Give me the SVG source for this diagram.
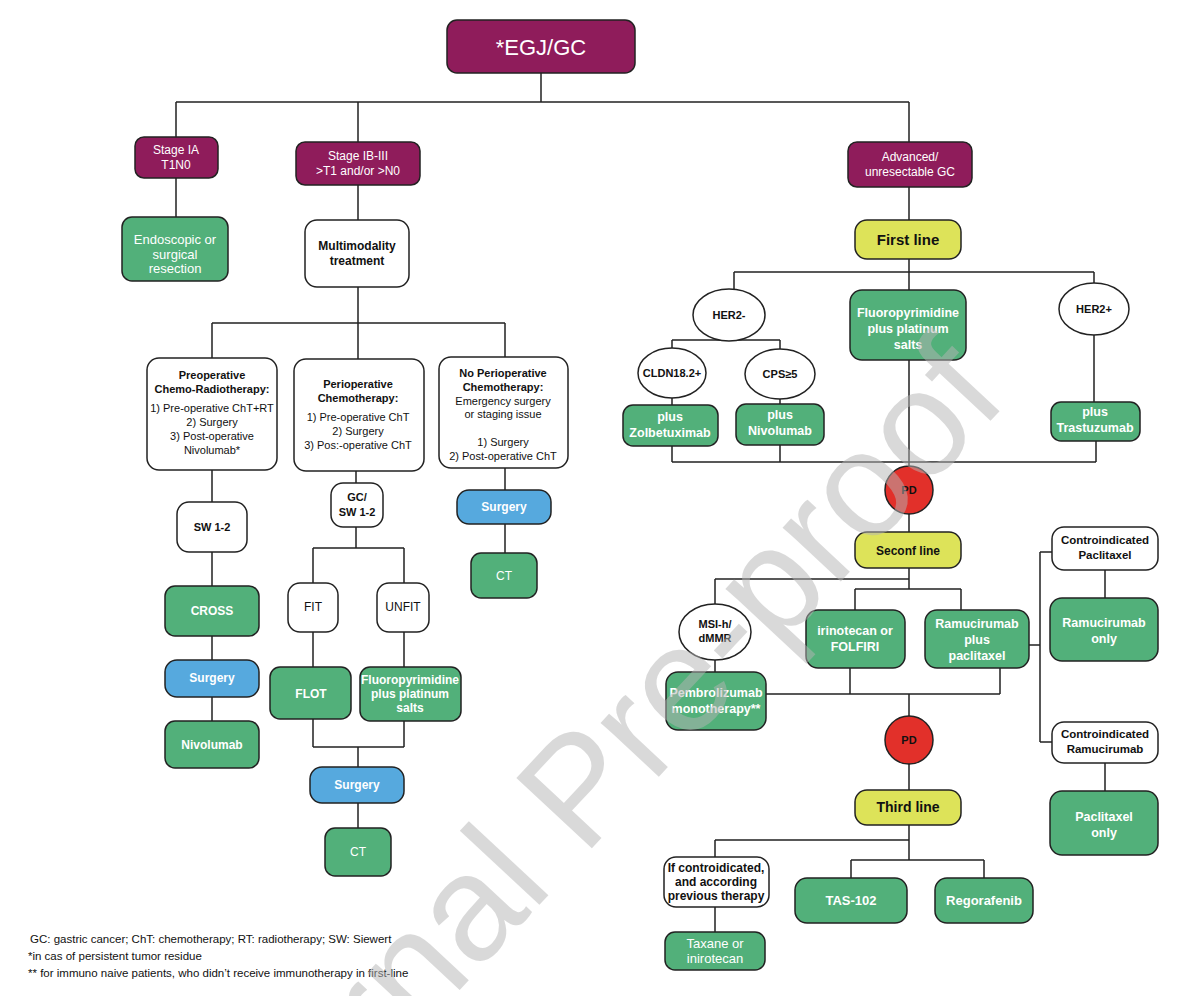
<svg xmlns="http://www.w3.org/2000/svg" width="1200" height="996" viewBox="0 0 1200 996" font-size="12" font-weight="bold">
<style>
.b{stroke:#222;stroke-width:1.5}
.m{fill:#8f1c5b}.g{fill:#52b07a}.bl{fill:#56a9de}.y{fill:#dde359}.w{fill:#fff}.r{fill:#e2302a}
text{font-family:"Liberation Sans",Arial,sans-serif;text-anchor:middle}
.n{font-family:"Liberation Sans Narrow","Liberation Sans",sans-serif}
.tw{fill:#fff}.tk{fill:#111}
.c{fill:none;stroke:#222;stroke-width:1.5}
.fn{font-family:"Liberation Sans Narrow","Liberation Sans",sans-serif;text-anchor:start;fill:#111}
</style>
<rect width="1200" height="996" fill="#fff"/>
<g id="connectors" class="c">
<path d="M541 73V102M176 102H909M176 102V137M358 102V142M909 102V142"/>
<path d="M176 178V217M358 185V220M358 287V323M212 323H505M212 323V358M358 323V359M505 323V357"/>
<path d="M212 470V502M212 552V586M212 636V660M212 697V721"/>
<path d="M356 471V483M356 527V548M313 548H404M313 548V583M404 548V583M313 632V667M404 632V667M313 719V747M404 721V747M313 747H404M358 747V767M358 803V828"/>
<path d="M505 468V490M505 524V553"/>
<path d="M909 187V220M909 259V290M734 272H1094M734 272V289M1094 272V283M672 340H780M729 341V340M672 340V348M780 340V349M672 398V405M780 399V404M1094 335V402"/>
<path d="M672 446V462M780 445V462M1096 441V462M672 462H1096M909 360V466M909 514V532M909 568V579M715 579H909M715 579V604M909 579V589M855 589H961M855 589V610M961 589V610M715 660V672"/>
<path d="M766 694H1000M850 668V694M1000 668V694M909 694V716M909 764V790"/>
<path d="M1029 645H1040M1040 552V742M1040 552H1052M1040 742H1052M1105 570V598M1105 763V791"/>
<path d="M909 825V860M715 840H909M715 840V857M851 860H984M851 860V878M984 860V878M715 907V932"/>
</g>
<g id="egj"><rect class="m b" x="447" y="20" width="188" height="53" rx="10"/><text class="tw n" x="541" y="55" font-size="22" font-weight="normal">*EGJ/GC</text></g>
<g id="stageIA"><rect class="m b" x="135" y="137" width="83" height="41" rx="9"/><text class="tw n" x="176" y="154" font-weight="normal">Stage IA</text><text class="tw n" x="176" y="169" font-weight="normal">T1N0</text></g>
<g id="stageIB"><rect class="m b" x="296" y="142" width="124" height="43" rx="9"/><text class="tw n" x="358" y="160" font-weight="normal">Stage IB-III</text><text class="tw n" x="358" y="175" font-weight="normal">&gt;T1 and/or &gt;N0</text></g>
<g id="advanced"><rect class="m b" x="848" y="142" width="124" height="45" rx="9"/><text class="tw n" x="910" y="161" font-weight="normal">Advanced/</text><text class="tw n" x="910" y="176" font-weight="normal">unresectable GC</text></g>
<g id="endo"><rect class="g b" x="122" y="217" width="106" height="64" rx="10"/><text class="tw n" x="175" y="244" font-size="13" font-weight="normal">Endoscopic or</text><text class="tw n" x="175" y="259" font-size="13" font-weight="normal">surgical</text><text class="tw n" x="175" y="273" font-size="13" font-weight="normal">resection</text></g>
<g id="multi"><rect class="w b" x="305" y="220" width="104" height="67" rx="12"/><text class="tk n" x="357" y="250">Multimodality</text><text class="tk n" x="357" y="265">treatment</text></g>
<g id="preop" font-size="11"><rect class="w b" x="147" y="358" width="130" height="112" rx="12"/><text class="tk" x="212" y="379">Preoperative</text><text class="tk" x="212" y="393">Chemo-Radiotherapy:</text><text class="tk" x="212" y="412" font-weight="normal">1) Pre-operative ChT+RT</text><text class="tk" x="212" y="426" font-weight="normal">2) Surgery</text><text class="tk" x="212" y="440" font-weight="normal">3) Post-operative</text><text class="tk" x="212" y="454" font-weight="normal">Nivolumab*</text></g>
<g id="periop" font-size="11"><rect class="w b" x="294" y="359" width="130" height="112" rx="12"/><text class="tk" x="358" y="388">Perioperative</text><text class="tk" x="358" y="402">Chemotherapy:</text><text class="tk" x="358" y="421" font-weight="normal">1) Pre-operative ChT</text><text class="tk" x="358" y="435" font-weight="normal">2) Surgery</text><text class="tk" x="358" y="449" font-weight="normal">3) Pos:-operative ChT</text></g>
<g id="noperiop" font-size="11"><rect class="w b" x="439" y="357" width="129" height="111" rx="12"/><text class="tk" x="503" y="377">No Perioperative</text><text class="tk" x="503" y="391">Chemotherapy:</text><text class="tk" x="503" y="405" font-weight="normal">Emergency surgery</text><text class="tk" x="503" y="418" font-weight="normal">or staging issue</text><text class="tk" x="503" y="446" font-weight="normal">1) Surgery</text><text class="tk" x="503" y="460" font-weight="normal">2) Post-operative ChT</text></g>
<g id="sw12"><rect class="w b" x="177" y="502" width="70" height="50" rx="12"/><text class="tk" x="212" y="531" font-size="11">SW 1-2</text></g>
<g id="gcsw" font-size="11"><rect class="w b" x="331" y="483" width="52" height="44" rx="12"/><text class="tk" x="357" y="501">GC/</text><text class="tk" x="357" y="516">SW 1-2</text></g>
<g id="surgery3"><rect class="bl b" x="457" y="490" width="94" height="34" rx="12"/><text class="tw" x="504" y="511">Surgery</text></g>
<g id="ct3"><rect class="g b" x="471" y="553" width="66" height="45" rx="10"/><text class="tw n" x="504" y="580" font-weight="normal">CT</text></g>
<g id="cross"><rect class="g b" x="165" y="586" width="94" height="50" rx="10"/><text class="tw" x="212" y="615">CROSS</text></g>
<g id="surgery1"><rect class="bl b" x="165" y="660" width="94" height="37" rx="12"/><text class="tw" x="212" y="682">Surgery</text></g>
<g id="nivo1"><rect class="g b" x="165" y="721" width="94" height="47" rx="10"/><text class="tw" x="212" y="749">Nivolumab</text></g>
<g id="fit"><rect class="w b" x="288" y="583" width="50" height="49" rx="12"/><text class="tk" x="313" y="611" font-weight="normal">FIT</text></g>
<g id="unfit"><rect class="w b" x="377" y="583" width="52" height="49" rx="12"/><text class="tk" x="403" y="611" font-weight="normal">UNFIT</text></g>
<g id="flot"><rect class="g b" x="270" y="667" width="81" height="52" rx="10"/><text class="tw" x="311" y="698">FLOT</text></g>
<g id="fluoro2"><rect class="g b" x="360" y="667" width="101" height="54" rx="10"/><text class="tw" x="410" y="684">Fluoropyrimidine</text><text class="tw" x="410" y="698">plus platinum</text><text class="tw" x="410" y="712">salts</text></g>
<g id="surgery2"><rect class="bl b" x="310" y="767" width="94" height="36" rx="12"/><text class="tw" x="357" y="789">Surgery</text></g>
<g id="ct2"><rect class="g b" x="325" y="828" width="66" height="48" rx="10"/><text class="tw n" x="358" y="856" font-weight="normal">CT</text></g>
<g id="firstline"><rect class="y b" x="855" y="220" width="106" height="39" rx="12"/><text class="tk n" x="908" y="245" font-size="15">First line</text></g>
<g id="her2neg"><ellipse class="w b" cx="729" cy="315" rx="36" ry="26"/><text class="tk" x="729" y="319" font-size="11">HER2-</text></g>
<g id="fluoro1" font-size="12.5"><rect class="g b" x="850" y="290" width="116" height="70" rx="12"/><text class="tw" x="908" y="317">Fluoropyrimidine</text><text class="tw" x="908" y="333">plus platinum</text><text class="tw" x="908" y="349">salts</text></g>
<g id="her2pos"><ellipse class="w b" cx="1094" cy="309" rx="35" ry="26"/><text class="tk" x="1094" y="313" font-size="11">HER2+</text></g>
<g id="cldn"><ellipse class="w b" cx="672" cy="373" rx="34" ry="25"/><text class="tk" x="672" y="377" font-size="11">CLDN18.2+</text></g>
<g id="cps"><ellipse class="w b" cx="780" cy="374" rx="35" ry="25"/><text class="tk" x="780" y="378" font-size="11">CPS≥5</text></g>
<g id="zolbe" font-size="12.5"><rect class="g b" x="623" y="405" width="95" height="41" rx="10"/><text class="tw" x="670" y="421">plus</text><text class="tw" x="670" y="437">Zolbetuximab</text></g>
<g id="nivo2" font-size="12.5"><rect class="g b" x="736" y="404" width="88" height="41" rx="10"/><text class="tw" x="780" y="419">plus</text><text class="tw" x="780" y="435">Nivolumab</text></g>
<g id="trastu" font-size="12.5"><rect class="g b" x="1051" y="402" width="89" height="39" rx="10"/><text class="tw" x="1095" y="416">plus</text><text class="tw" x="1095" y="432">Trastuzumab</text></g>
<g id="pd1"><circle class="r b" cx="909" cy="490" r="24"/><text class="tk" x="909" y="494" font-size="11">PD</text></g>
<g id="secondline"><rect class="y b" x="855" y="532" width="106" height="36" rx="12"/><text class="tk" x="908" y="555">Seconf line</text></g>
<g id="msi" font-size="11"><ellipse class="w b" cx="715" cy="632" rx="36" ry="28"/><text class="tk" x="715" y="628">MSI-h/</text><text class="tk" x="715" y="642">dMMR</text></g>
<g id="irino" font-size="12.5"><rect class="g b" x="806" y="610" width="99" height="58" rx="12"/><text class="tw" x="855" y="635">irinotecan or</text><text class="tw" x="855" y="651">FOLFIRI</text></g>
<g id="ramupac" font-size="12.5"><rect class="g b" x="925" y="610" width="104" height="58" rx="12"/><text class="tw" x="977" y="628">Ramucirumab</text><text class="tw" x="977" y="644">plus</text><text class="tw" x="977" y="660">paclitaxel</text></g>
<g id="pembro" font-size="12.5"><rect class="g b" x="666" y="672" width="100" height="58" rx="12"/><text class="tw" x="716" y="697">Pembrolizumab</text><text class="tw" x="716" y="713">monotherapy**</text></g>
<g id="cipac" font-size="11.5"><rect class="w b" x="1052" y="527" width="106" height="43" rx="12"/><text class="tk" x="1105" y="544">Controindicated</text><text class="tk" x="1105" y="559">Paclitaxel</text></g>
<g id="ramuonly" font-size="12.5"><rect class="g b" x="1050" y="598" width="108" height="63" rx="12"/><text class="tw" x="1104" y="627">Ramucirumab</text><text class="tw" x="1104" y="643">only</text></g>
<g id="ciramu" font-size="11.5"><rect class="w b" x="1052" y="722" width="106" height="41" rx="12"/><text class="tk" x="1105" y="738">Controindicated</text><text class="tk" x="1105" y="753">Ramucirumab</text></g>
<g id="pacionly" font-size="12.5"><rect class="g b" x="1050" y="791" width="108" height="64" rx="12"/><text class="tw" x="1104" y="821">Paclitaxel</text><text class="tw" x="1104" y="837">only</text></g>
<g id="pd2"><circle class="r b" cx="909" cy="740" r="24"/><text class="tk" x="909" y="744" font-size="11">PD</text></g>
<g id="thirdline"><rect class="y b" x="855" y="790" width="106" height="35" rx="12"/><text class="tk n" x="908" y="812" font-size="14">Third line</text></g>
<g id="ifcontra"><rect class="w b" x="664" y="857" width="105" height="50" rx="12"/><text class="tk n" x="716" y="872">If controidicated,</text><text class="tk n" x="716" y="886">and according</text><text class="tk n" x="716" y="900">previous therapy</text></g>
<g id="tas"><rect class="g b" x="795" y="878" width="112" height="45" rx="12"/><text class="tw n" x="851" y="905" font-size="13">TAS-102</text></g>
<g id="rego"><rect class="g b" x="935" y="878" width="98" height="45" rx="12"/><text class="tw n" x="984" y="905" font-size="13">Regorafenib</text></g>
<g id="taxane"><rect class="g b" x="665" y="932" width="100" height="38" rx="10"/><text class="tw n" x="715" y="948" font-size="13" font-weight="normal">Taxane or</text><text class="tw n" x="715" y="963" font-size="13" font-weight="normal">inirotecan</text></g>
<g id="footnotes" font-weight="normal" font-size="11.5">
<text class="fn" x="30" y="943">GC: gastric cancer; ChT: chemotherapy; RT: radiotherapy; SW: Siewert</text>
<text class="fn" x="28" y="960">*in cas of persistent tumor residue</text>
<text class="fn" x="28" y="977">** for immuno naive patients, who didn’t receive immunotherapy in first-line</text>
</g>
<text x="1010" y="400" transform="rotate(-47 1010 400)" font-size="150" font-weight="normal" fill="#b5b5b5" opacity="0.5" style="text-anchor:end">Journal Pre-proof</text>
</svg>
